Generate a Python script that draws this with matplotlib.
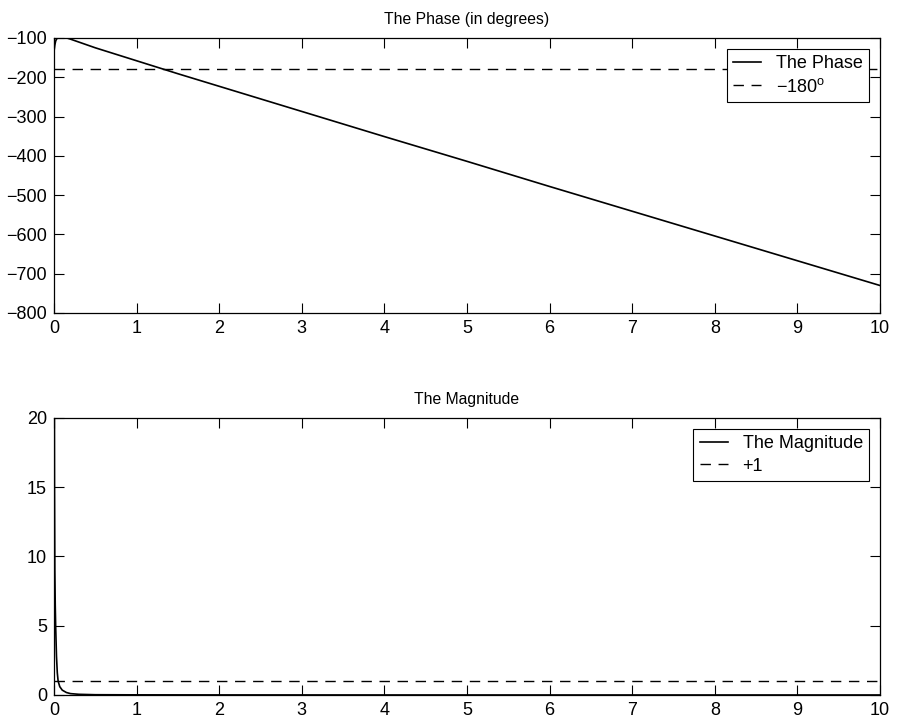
import matplotlib.pyplot as plt

plt.rcParams['font.family'] = ['Liberation Sans', 'DejaVu Sans']
plt.rcParams['mathtext.fontset'] = 'custom'
plt.rcParams['mathtext.rm'] = 'Liberation Sans'
plt.rcParams['mathtext.it'] = 'Liberation Sans:italic'

# phase curve (degrees)
w_phase = [0, 0.005, 0.01, 0.02, 0.03, 0.05, 0.07, 0.11, 0.2, 0.5, 1, 1.5, 2, 3, 4, 5, 6, 7, 8, 9, 10]
phase = [-135, -126, -118, -108, -103, -99, -97, -97, -103, -125, -158, -191, -223, -287,
         -351, -414, -478, -541, -604, -667, -730]

# magnitude curve
w_mag = [0, 0.003, 0.006, 0.01, 0.015, 0.02, 0.03, 0.04, 0.05, 0.07, 0.1, 0.15, 0.2, 0.3, 0.5, 1, 2, 4, 6, 8, 10]
mag = [40, 25, 15, 9, 6.5, 5, 2.8, 1.6, 1.0, 0.6, 0.35, 0.18, 0.1, 0.05, 0.02, 0.01, 0.005, 0.002, 0.001, 0.001, 0.001]

x_lim = [0, 10]
ref_phase = -180
ref_mag = 1

fig = plt.figure(figsize=(8.97, 7.22), dpi=100)
ax1 = fig.add_axes([0.0602, 0.5665, 0.9208, 0.3809])
ax2 = fig.add_axes([0.0602, 0.0374, 0.9208, 0.3837])


def style(ax):
    ax.tick_params(direction='in', length=7, width=0.8, top=True, right=True,
                   labelsize=13, pad=5)
    for s in ax.spines.values():
        s.set_linewidth(0.9)


def legend(ax):
    leg = ax.legend(loc='upper right', fontsize=13, fancybox=False, edgecolor='black',
                    framealpha=1, handlelength=1.58, handletextpad=0.8,
                    borderaxespad=0.6, borderpad=0.35, labelspacing=0.3)
    leg.get_frame().set_linewidth(0.8)


dash = (0, (7.5, 5.5))

ax1.plot(w_phase, phase, color='black', lw=1.2, label='The Phase')
ax1.plot(x_lim, [ref_phase, ref_phase], color='black', lw=1.0, ls=dash,
         label='\u2212180$^{\\rm o}$')
ax1.set_xlim(0, 10)
ax1.set_ylim(-800, -100)
ax1.set_xticks(range(0, 11))
ax1.set_yticks(range(-800, 0, 100))
ax1.set_title('The Phase (in degrees)', fontsize=11.3, pad=10)
style(ax1)
legend(ax1)

ax2.plot(w_mag, mag, color='black', lw=1.2, label='The Magnitude')
ax2.plot(x_lim, [ref_mag, ref_mag], color='black', lw=1.0, ls=dash, label='+1')
ax2.set_xlim(0, 10)
ax2.set_ylim(0, 20)
ax2.set_xticks(range(0, 11))
ax2.set_yticks([0, 5, 10, 15, 20])
ax2.set_title('The Magnitude', fontsize=11.3, pad=10)
style(ax2)
legend(ax2)

fig.savefig('out.png', dpi=100)
